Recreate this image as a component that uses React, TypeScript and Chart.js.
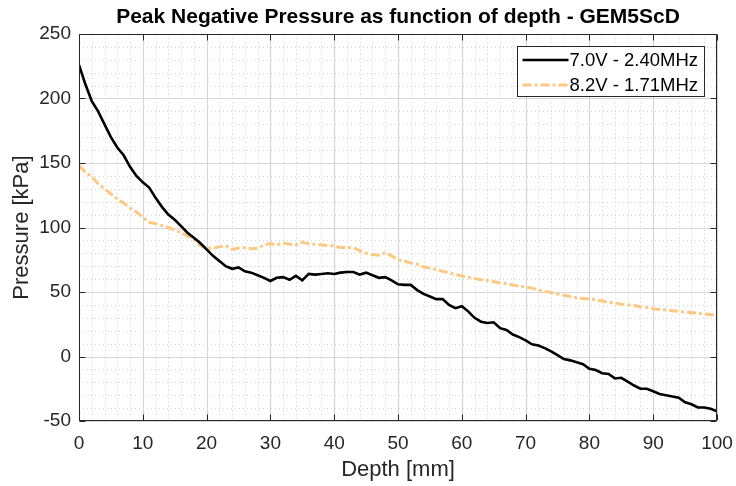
import React, { useEffect, useRef } from "react";
import { Chart, registerables } from "chart.js";

Chart.register(...registerables);

const TITLE = "Peak Negative Pressure as function of depth - GEM5ScD";
const X_TITLE = "Depth [mm]";
const Y_TITLE = "Pressure [kPa]";

const depthMm: number[] = Array.from({ length: 101 }, (_, i) => i);

const seriesLabels = ["7.0V - 2.40MHz", "8.2V - 1.71MHz"];

const pressure70V: number[] = [
  226, 211, 198, 190, 180, 170, 162, 156, 147, 140,
  135, 131, 123, 116, 110, 106, 101, 96, 92, 88,
  83, 78, 74, 70, 68, 69, 66, 65, 63, 61,
  58.5, 61, 61.5, 59.5, 62.5, 59, 64, 63.5, 64, 64.5,
  64, 65, 65.5, 65.5, 63.5, 65, 63, 61, 61.5, 59,
  56, 55.5, 55.5, 51.5, 48.5, 46.5, 44.5, 44.5, 40, 37.5,
  39, 35, 30, 27, 26, 26.5, 22, 20.5, 17, 15,
  12.5, 9.5, 8.5, 6.5, 4, 1, -2, -3, -4.5, -6,
  -9.5, -10.5, -13, -13.5, -17, -16.5, -19.5, -22.5, -25, -25,
  -27, -29, -30, -31, -32, -35.5, -37, -39.5, -39.5, -40.5,
  -42.5,
];

const pressure82V: number[] = [
  148, 143, 139.5, 134, 130, 126, 122, 119, 115, 112,
  108, 104, 103, 101.5, 100, 98, 96, 93.5, 91, 86,
  84, 84, 85, 86, 83, 84, 84.5, 83.5, 84, 86.5,
  87.5, 86.5, 88, 87, 86.5, 88.5, 87.5, 87, 86.5, 86,
  85.5, 84.5, 84.5, 84.5, 82, 80, 79, 78.5, 80.5, 78,
  75, 74, 72.5, 71.5, 69.5, 68.5, 67.5, 66, 65, 63.5,
  62.5, 61.5, 60.5, 59.5, 59, 58, 57, 56.5, 55.5, 54.5,
  54, 53, 51.5, 50.5, 49.5, 48.5, 47.5, 46.5, 45.5, 45,
  44.5, 44, 43, 42, 41.5, 40.5, 40, 39.5, 38.5, 38,
  37, 36.5, 36, 35.5, 35, 34.5, 34, 33.5, 33, 32.5,
  32,
];

const X_MIN = 0, X_MAX = 100, X_MAJOR = 10, X_MINOR = 2;
const Y_MIN = -50, Y_MAX = 250, Y_MAJOR = 50, Y_MINOR = 10;

const FONT = "'Liberation Sans', Arial, sans-serif";
const AXIS_COLOR = "#262626";
const MAJOR_GRID = "#d6d6d6";
const MINOR_GRID = "#d2d2d2";
const BLACK = "#000000";
const ORANGE = "#FFC880";
const ORANGE_DASH = [9, 3, 3, 3];

const gridPlugin = {
  id: "matlabGrid",
  beforeDatasetsDraw(chart: any) {
    const { ctx, chartArea } = chart;
    const { left, right, top, bottom } = chartArea;
    const xs = chart.scales.x, ys = chart.scales.y;
    ctx.save();
    ctx.lineWidth = 1;
    ctx.strokeStyle = MINOR_GRID;
    ctx.setLineDash([1, 3]);
    ctx.beginPath();
    for (let v = X_MIN; v <= X_MAX; v += X_MINOR) {
      if (v % X_MAJOR === 0) continue;
      const px = Math.round(xs.getPixelForValue(v)) + 0.5;
      ctx.moveTo(px, top);
      ctx.lineTo(px, bottom);
    }
    for (let v = Y_MIN; v <= Y_MAX; v += Y_MINOR) {
      if (v % Y_MAJOR === 0) continue;
      const py = Math.round(ys.getPixelForValue(v)) + 0.5;
      ctx.moveTo(left, py);
      ctx.lineTo(right, py);
    }
    ctx.stroke();
    ctx.setLineDash([]);
    ctx.strokeStyle = MAJOR_GRID;
    ctx.lineWidth = 1.2;
    ctx.beginPath();
    for (let v = X_MIN; v <= X_MAX; v += X_MAJOR) {
      const px = Math.round(xs.getPixelForValue(v)) + 0.5;
      ctx.moveTo(px, top);
      ctx.lineTo(px, bottom);
    }
    for (let v = Y_MIN; v <= Y_MAX; v += Y_MAJOR) {
      const py = Math.round(ys.getPixelForValue(v)) + 0.5;
      ctx.moveTo(left, py);
      ctx.lineTo(right, py);
    }
    ctx.stroke();
    ctx.restore();
  },
  afterDatasetsDraw(chart: any) {
    const { ctx, chartArea } = chart;
    const { left, right, top, bottom } = chartArea;
    const xs = chart.scales.x, ys = chart.scales.y;
    const L = Math.round(left) + 0.5, R = Math.round(right) - 0.5;
    const T = Math.round(top) + 0.5, B = Math.round(bottom) - 0.5;
    ctx.save();
    ctx.strokeStyle = AXIS_COLOR;
    ctx.lineWidth = 1;
    ctx.beginPath();
    ctx.rect(L, T, R - L, B - T);
    const tl = 6;
    for (let v = X_MIN; v <= X_MAX; v += X_MAJOR) {
      const px = Math.round(xs.getPixelForValue(v)) + 0.5;
      ctx.moveTo(px, B); ctx.lineTo(px, B - tl);
      ctx.moveTo(px, T); ctx.lineTo(px, T + tl);
    }
    for (let v = Y_MIN; v <= Y_MAX; v += Y_MAJOR) {
      const py = Math.round(ys.getPixelForValue(v)) + 0.5;
      ctx.moveTo(L, py); ctx.lineTo(L + tl, py);
      ctx.moveTo(R, py); ctx.lineTo(R - tl, py);
    }
    ctx.stroke();

    // legend box
    const bx = R - 199, by = T + 12, bw = 187, bh = 50;
    ctx.fillStyle = "#ffffff";
    ctx.fillRect(bx, by, bw, bh);
    ctx.strokeStyle = AXIS_COLOR;
    ctx.strokeRect(bx, by, bw, bh);
    const ds = chart.data.datasets;
    ctx.font = `18.5px ${FONT}`;
    ctx.textBaseline = "middle";
    ctx.textAlign = "left";
    ds.forEach((d: any, i: number) => {
      const cy = by + 13.5 + i * 25;
      ctx.save();
      ctx.strokeStyle = d.borderColor;
      ctx.lineWidth = d.borderWidth;
      ctx.setLineDash(d.borderDash || []);
      ctx.beginPath();
      ctx.moveTo(bx + 5, cy);
      ctx.lineTo(bx + 51, cy);
      ctx.stroke();
      ctx.restore();
      ctx.fillStyle = "#000000";
      ctx.fillText(d.label, bx + 52, cy + 1);
    });
    ctx.restore();
  },
};

export default function App() {
  const canvasRef = useRef<HTMLCanvasElement | null>(null);

  useEffect(() => {
    if (!canvasRef.current) return;
    const chart = new Chart(canvasRef.current, {
      type: "line",
      data: {
        datasets: [
          {
            label: seriesLabels[0],
            data: depthMm.map((x, i) => ({ x, y: pressure70V[i] })),
            borderColor: BLACK,
            borderWidth: 2.6,
            pointRadius: 0,
            tension: 0,
            fill: false,
          },
          {
            label: seriesLabels[1],
            data: depthMm.map((x, i) => ({ x, y: pressure82V[i] })),
            borderColor: ORANGE,
            borderWidth: 3,
            borderDash: ORANGE_DASH,
            pointRadius: 0,
            tension: 0,
            fill: false,
          },
        ],
      },
      options: {
        animation: false,
        responsive: false,
        maintainAspectRatio: false,
        layout: { padding: { top: 0, right: 19, bottom: 0, left: 0 } },
        plugins: {
          legend: { display: false },
          tooltip: { enabled: false },
          title: {
            display: true,
            text: TITLE,
            fullSize: false,
            color: "#000000",
            font: { family: FONT, size: 21, weight: "bold" },
            padding: { top: 4.5, bottom: 4.3 },
          },
        },
        scales: {
          x: {
            type: "linear",
            min: X_MIN,
            max: X_MAX,
            grid: { display: false, drawTicks: false },
            border: { display: false },
            ticks: {
              stepSize: X_MAJOR,
              color: AXIS_COLOR,
              padding: 11,
              maxRotation: 0,
              font: { family: FONT, size: 19 },
            },
            title: {
              display: true,
              text: X_TITLE,
              color: AXIS_COLOR,
              font: { family: FONT, size: 22 },
              padding: { top: 0, bottom: 3 },
            },
            afterFit: (s: any) => { s.height = 65; s.paddingLeft = 0; s.paddingRight = 0; },
          },
          y: {
            type: "linear",
            min: Y_MIN,
            max: Y_MAX,
            grid: { display: false, drawTicks: false },
            border: { display: false },
            ticks: {
              stepSize: Y_MAJOR,
              color: AXIS_COLOR,
              padding: 8,
              font: { family: FONT, size: 19 },
            },
            title: {
              display: true,
              text: Y_TITLE,
              color: AXIS_COLOR,
              font: { family: FONT, size: 22 },
              padding: { top: 9, bottom: 0 },
            },
            afterFit: (s: any) => { s.width = 79; s.paddingTop = 0; s.paddingBottom = 0; },
          },
        },
      },
      plugins: [gridPlugin],
    });
    return () => chart.destroy();
  }, []);

  return (
    <div style={{ position: "fixed", left: 0, top: 0, width: 736, height: 486, background: "#ffffff" }}>
      <canvas ref={canvasRef} width={736} height={486} style={{ width: 736, height: 486, display: "block" }} />
    </div>
  );
}
